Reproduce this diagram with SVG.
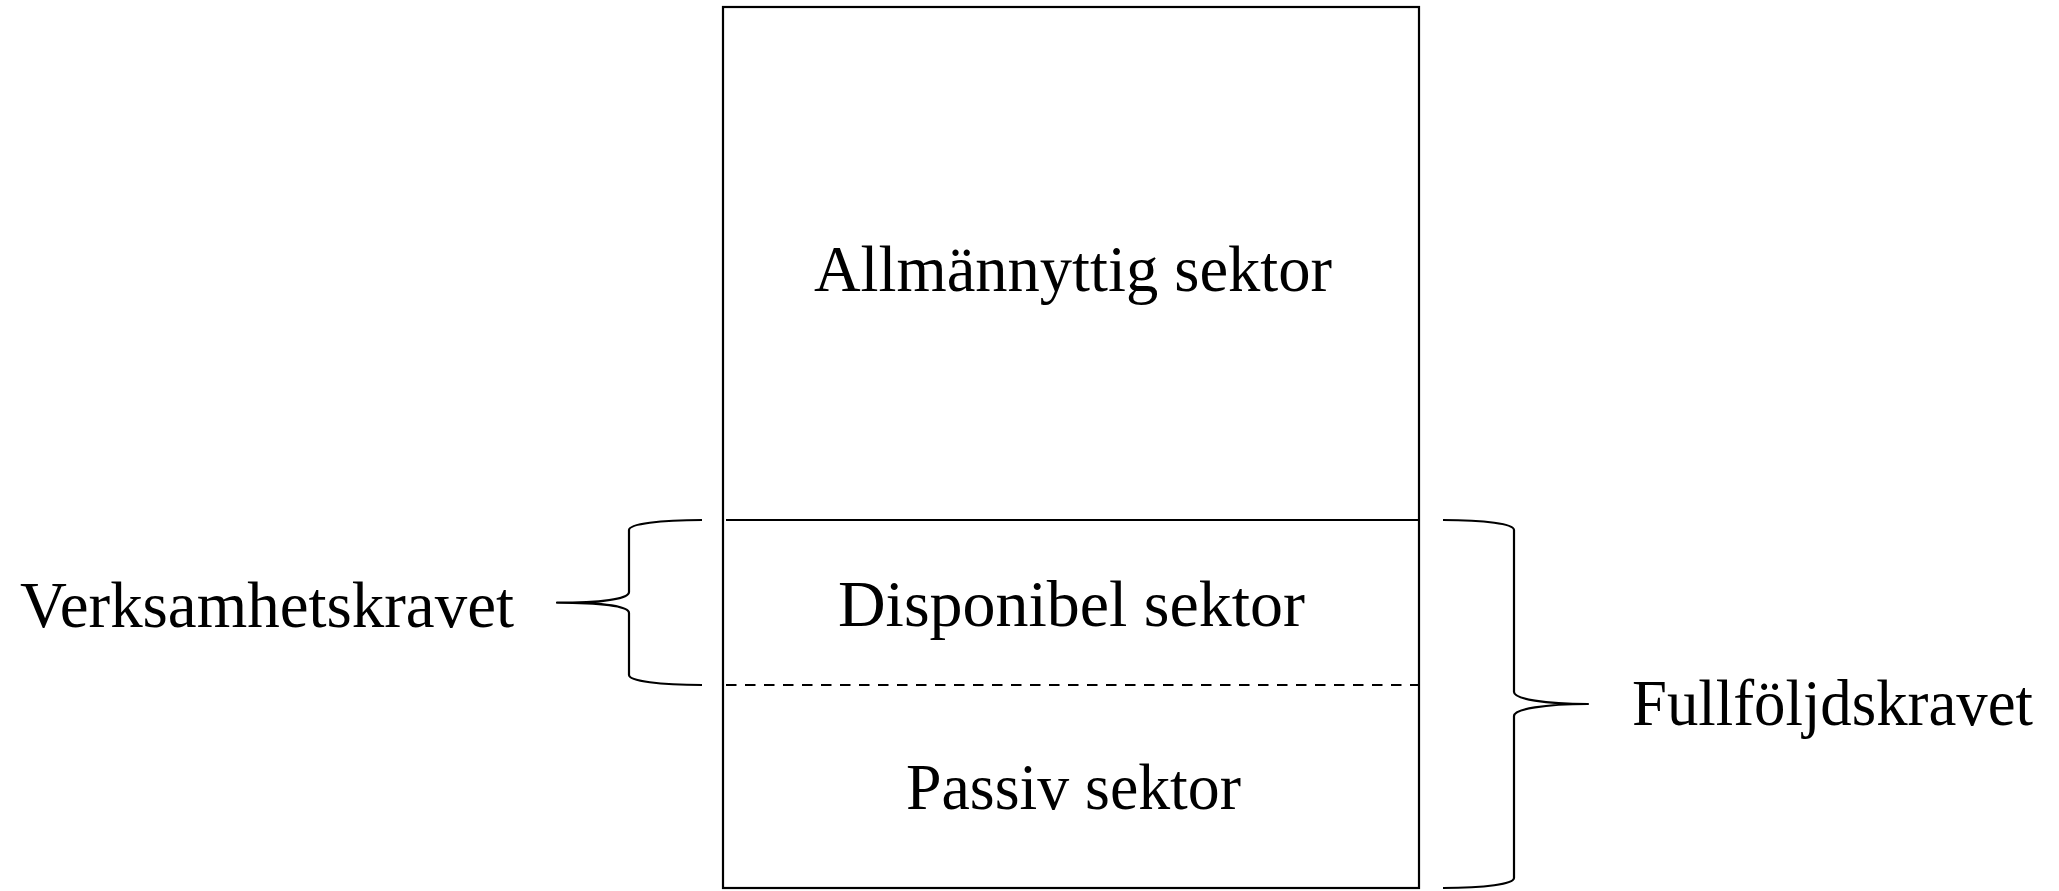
<svg xmlns="http://www.w3.org/2000/svg" width="2059" height="891" viewBox="0 0 2059 891">
<style>
.ln{fill:none;stroke:#000;stroke-width:2.2}
.dash{fill:none;stroke:#000;stroke-width:2.2;stroke-dasharray:10.5 8.5}
.br{fill:none;stroke:#000;stroke-width:2.2;stroke-linejoin:round}
.t{font-family:"Liberation Serif","DejaVu Serif",serif;font-size:65px;fill:#000}
</style>
<rect width="2059" height="891" fill="#fff"/>
<g id="box">
<rect class="ln" x="723" y="7" width="696" height="881"/>
</g>
<g id="connectors">
<line class="ln" x1="726" y1="520" x2="1419" y2="520"/>
<line class="dash" x1="726" y1="685" x2="1418" y2="685"/>
<path class="br" d="M702,520 C660,520 629,524 629,530 L629,592 C629,599 600,602.7 557,602.7 C600,602.7 629,606 629,613 L629,675 C629,681 660,685 702,685"/>
<path class="br" d="M1443,520 C1485,520 1514,524 1514,530 L1514,692 C1514,699 1545,704 1588,704 C1545,704 1514,709 1514,716 L1514,878 C1514,884 1485,888 1443,888"/>
</g>
<g id="allmannyttig">
<text class="t" x="814" y="291" textLength="518" lengthAdjust="spacingAndGlyphs">Allmännyttig sektor</text>
</g>
<g id="disponibel">
<text class="t" x="838" y="626" textLength="467" lengthAdjust="spacingAndGlyphs">Disponibel sektor</text>
</g>
<g id="passiv">
<text class="t" x="906" y="809" textLength="335" lengthAdjust="spacingAndGlyphs">Passiv sektor</text>
</g>
<g id="verksamhetskravet">
<text class="t" x="20" y="627" textLength="494" lengthAdjust="spacingAndGlyphs">Verksamhetskravet</text>
</g>
<g id="fullfoljdskravet">
<text class="t" x="1632" y="725" textLength="401" lengthAdjust="spacingAndGlyphs">Fullföljdskravet</text>
</g>
</svg>
